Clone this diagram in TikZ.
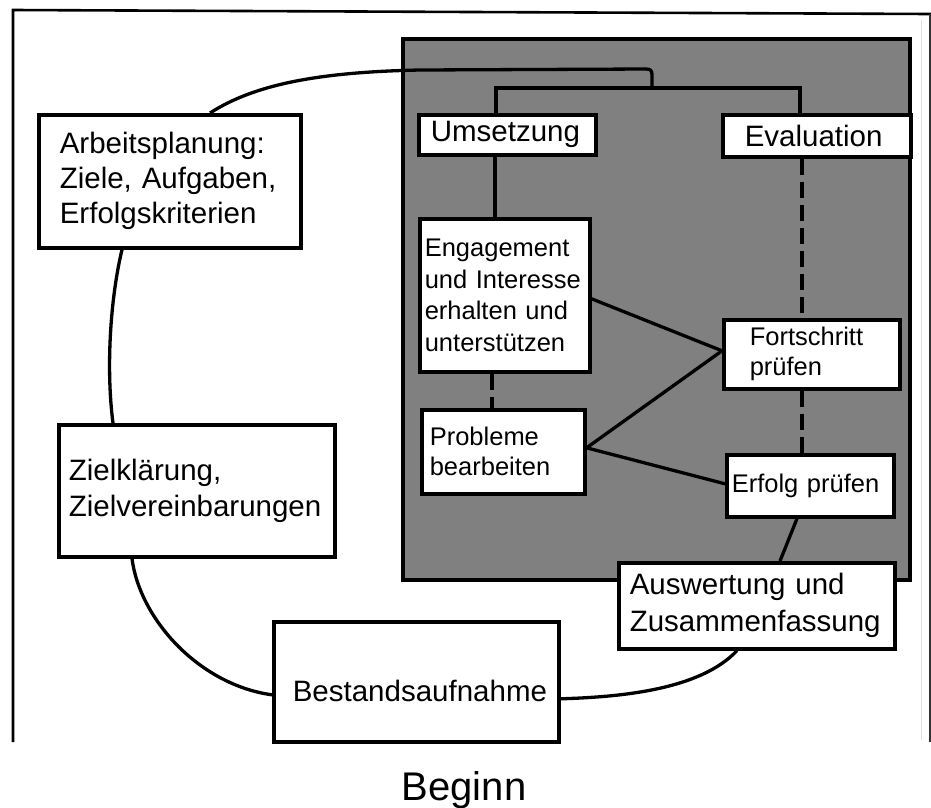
\documentclass[tikz,border=0pt]{standalone}
\usepackage{fontspec}
\setmainfont{Liberation Sans}
\hyphenpenalty=10000
\exhyphenpenalty=10000
\usetikzlibrary{calc}
\definecolor{panelgray}{RGB}{128,128,128}
\tikzset{
  box/.style={draw=black, fill=white, line width=3.6pt, rectangle, anchor=north west,
              align=left, inner ysep=1pt},
  bx/.style n args={4}{minimum width=#1pt, minimum height=#2pt, inner xsep=#3pt, text width=#4pt},
  bigtext/.style={font=\fontsize{29.5}{35}\selectfont},
  smalltext/.style={font=\fontsize{25.5}{30}\selectfont},
  conn/.style={draw=black, line width=3.3pt},
  dconn/.style={conn, dash pattern=on 16pt off 7pt},
  frame/.style={draw=black, line width=2.6pt}
}
\begin{document}
\begin{tikzpicture}[x=1pt,y=-1pt]
\useasboundingbox (0,0) rectangle (931,807);
% outer frame
\draw[frame] (13,742) -- (13,10) -- (931,14);
\draw[black!12, line width=1pt] (921,20) -- (921,740);
\draw[black!80, line width=1.5pt] (930,14) -- (930,742);
% gray panel
\draw[line width=3.6pt, fill=panelgray] (403,39) rectangle (910,580);

% nodes
\node[box, bigtext, bx={262}{133}{21}{220}] (ap) at (37,113) {Arbeitsplanung:\\Ziele, Aufgaben,\\Erfolgskriterien};
\node[box, font=\fontsize{29.5}{36}\selectfont, bx={276}{132}{10}{256}] (zk) at (57,423) {Zielklärung,\\Zielvereinbarungen};
\node[box, font=\fontsize{29.5}{33}\selectfont, bx={285}{120}{19}{247}, text height=40pt, text depth=0pt] (ba) at (272,620) {Bestandsaufnahme};
\node[box, font=\fontsize{29.5}{37}\selectfont, bx={276}{86}{11}{254}] (aw) at (617,561) {Auswertung und\\Zusammenfassung};
\node[box, bigtext, bx={177}{40}{12}{153}] (um) at (417,113) {Umsetzung};
\node[box, bigtext, bx={188}{42}{22}{144}] (ev) at (721,113) {Evaluation};
\node[box, font=\fontsize{25.5}{31.5}\selectfont, bx={170}{153}{5}{160}] (en) at (418,217) {Engagement\\und Interesse\\erhalten und\\unterstützen};
\node[box, smalltext, bx={163}{84}{8}{147}] (pb) at (420,408) {Probleme\\bearbeiten};
\node[box, smalltext, bx={176}{69}{26}{124}] (fp) at (722,318) {Fortschritt\\prüfen};
\node[box, smalltext, bx={167}{62}{5}{157}] (ep) at (725,453) {Erfolg prüfen};

\node[font=\fontsize{40}{44}\selectfont, anchor=base] (beginn) at (464,800) {Beginn};

% connectors
\coordinate (j1) at (652,88);
\path[conn] ([xshift=173pt]ap.north west) .. controls (255,84) and (320,72) .. (420,70)
   -- (646,69) .. controls (651,69) and (652,71) .. (652,75) -- (j1);
\path[conn] ([xshift=79pt]um.north west) -- ++(0,-25) -| ([xshift=79pt]ev.north west);
\path[conn] ([xshift=78pt]um.south west) -- ([xshift=77pt]en.north west);
\path[dconn] ([xshift=74pt]en.south west) -- ([xshift=72pt]pb.north west);
\path[dconn] ([xshift=81pt]ev.south west) -- ([xshift=80pt]fp.north west);
\path[dconn] ([xshift=80pt]fp.south west) -- ([xshift=77pt]ep.north west);
\coordinate (fpin) at ([yshift=3.5pt]fp.west);
\coordinate (pbout) at ([yshift=4pt]pb.east);
\path[conn] ([yshift=-3.5pt]en.east) -- (fpin);
\path[conn] (pbout) -- (fpin);
\path[conn] (pbout) -- ([yshift=2pt]ep.west);
\path[conn] ([xshift=72pt]ep.south west) -- ([xshift=163pt]aw.north west);
\path[conn] ([xshift=120pt]aw.south west) .. controls (700,690) and (620,697) .. ([yshift=-17pt]ba.east);
\path[conn] ([yshift=-13pt]ba.west) .. controls (200,685) and (140,620) .. ([xshift=75pt]zk.south west);
\path[conn] ([xshift=56pt]zk.north west) .. controls (106,370) and (110,300) .. ([xshift=85pt]ap.south west);
\end{tikzpicture}
\end{document}
